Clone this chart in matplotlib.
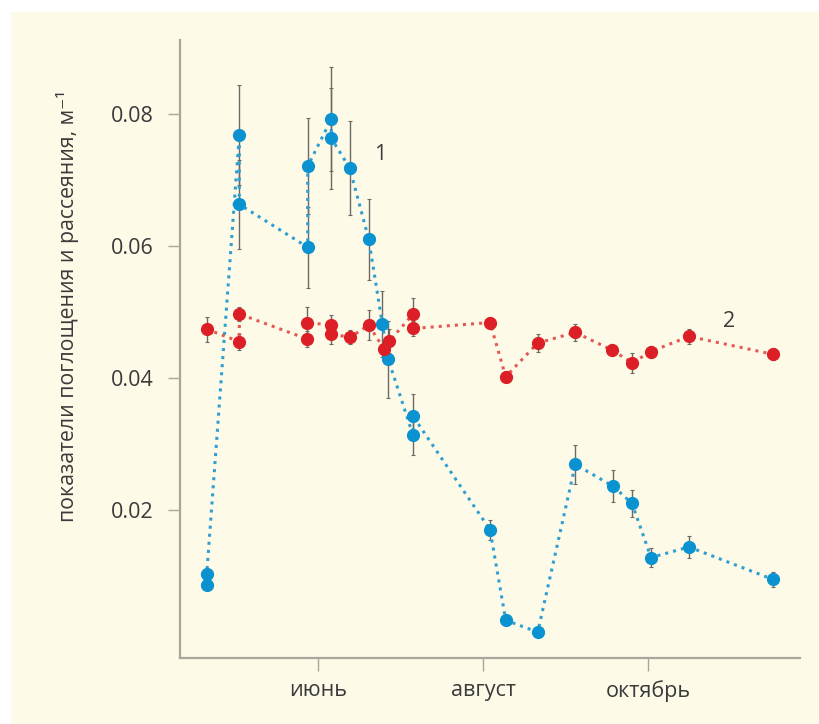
import numpy as np
import matplotlib.pyplot as plt
from matplotlib.patches import Rectangle

plt.rcParams['font.family'] = ['Open Sans', 'DejaVu Sans']

# время в месяцах (6 = июнь, 8 = август, 10 = октябрь)
x1 = [4.651, 4.651, 5.046, 5.046, 5.875, 5.875, 6.161, 6.161, 6.384, 6.615,
      6.779, 6.852, 7.152, 7.152, 8.085, 8.275, 8.663, 9.119, 9.576, 9.806,
      10.036, 10.497, 11.511]
y1 = [0.0086, 0.0103, 0.0768, 0.0663, 0.0598, 0.0721, 0.0792, 0.0763, 0.0718, 0.0610,
      0.0482, 0.0428, 0.0313, 0.0342, 0.0170, 0.0033, 0.0015, 0.0269, 0.0236, 0.0210,
      0.0128, 0.0144, 0.0095]
e1 = [0, 0, 0.0076, 0.0067, 0.0061, 0.0073, 0.0079, 0.0076, 0.0071, 0.0061,
      0.0050, 0.0058, 0.0030, 0.0033, 0.0015, 0, 0, 0.0029, 0.0024, 0.0020,
      0.0014, 0.0017, 0.0011]

x2 = [4.651, 5.046, 5.046, 5.870, 5.870, 6.158, 6.158, 6.392, 6.615, 6.800,
      6.864, 7.155, 7.155, 8.085, 8.275, 8.663, 9.119, 9.567, 9.806, 10.036,
      10.497, 11.511]
y2 = [0.0474, 0.0455, 0.0497, 0.0459, 0.0484, 0.0480, 0.0466, 0.0462, 0.0480, 0.0444,
      0.0456, 0.0497, 0.0475, 0.0484, 0.0402, 0.0453, 0.0469, 0.0442, 0.0423, 0.0440,
      0.0463, 0.0436]
e2 = [0.0019, 0.0012, 0.0011, 0.0012, 0.0023, 0.0015, 0.0015, 0.0011, 0.0023, 0.0012,
      0.0018, 0.0024, 0.0012, 0.0009, 0.0008, 0.0014, 0.0013, 0.0009, 0.0015, 0.0009,
      0.0011, 0.0009]

month_ticks = [6, 8, 10]
month_labels = ['июнь', 'август', 'октябрь']
y_ticks = [0.02, 0.04, 0.06, 0.08]

bg = '#fefae8'
axis_col = '#a9a799'
text_col = '#3a3a3a'
blue = '#0a93d0'
blue_line = '#2f9fd2'
red = '#dc1f26'
red_line = '#e35a55'

fig = plt.figure(figsize=(8.2, 7.24), dpi=100)
fig.patch.set_facecolor('white')
fig.patches.append(Rectangle((11 / 820, 0), 1, (724 - 12) / 724,
                             transform=fig.transFigure, facecolor=bg,
                             edgecolor='none', zorder=0))

ax = fig.add_axes([180 / 820, 66 / 724, 620 / 820, 618 / 724])
ax.set_facecolor('none')
ax.set_zorder(2)

# серия 1
ax.errorbar(x1, y1, yerr=e1, fmt='none', ecolor='#6b6b66', elinewidth=1.0,
            capsize=1.5, capthick=0.8, zorder=2)
ax.plot(x1, y1, ':', color=blue_line, lw=2.2, zorder=3)
ax.plot(x1, y1, 'o', color=blue, ms=8.5, mec=blue, zorder=4)

# серия 2
ax.errorbar(x2, y2, yerr=e2, fmt='none', ecolor='#6b6b66', elinewidth=1.0,
            capsize=1.5, capthick=0.8, zorder=2)
ax.plot(x2, y2, ':', color=red_line, lw=2.2, zorder=3)
ax.plot(x2, y2, 'o', color=red, ms=8.5, mec=red, zorder=4)

ax.text(6.755, 0.0738, '1', fontsize=15.5, color=text_col, ha='center', va='center')
ax.text(10.98, 0.0486, '2', fontsize=15.5, color=text_col, ha='center', va='center')

ax.set_xlim(4.327, 11.842)
ax.set_ylim(-0.00242, 0.0912)
ax.set_xticks(month_ticks)
ax.set_xticklabels(month_labels)
ax.set_yticks(y_ticks)
ax.set_yticklabels([f'{v:.2f}' for v in y_ticks])

for side in ['top', 'right']:
    ax.spines[side].set_visible(False)
for side in ['left', 'bottom']:
    ax.spines[side].set_color(axis_col)
    ax.spines[side].set_linewidth(1.6)
ax.tick_params(axis='both', colors=axis_col, width=1.0, length=9,
               labelcolor=text_col, labelsize=15.5)
ax.tick_params(axis='x', pad=7)
ax.tick_params(axis='y', pad=10)

fig.text(68 / 820, 1 - 306 / 724, 'показатели поглощения и рассеяния, м\u207b\u00b9',
         rotation=90, ha='center', va='center', fontsize=15.3, color=text_col)

fig.savefig('out.png', dpi=100, facecolor=fig.get_facecolor())
